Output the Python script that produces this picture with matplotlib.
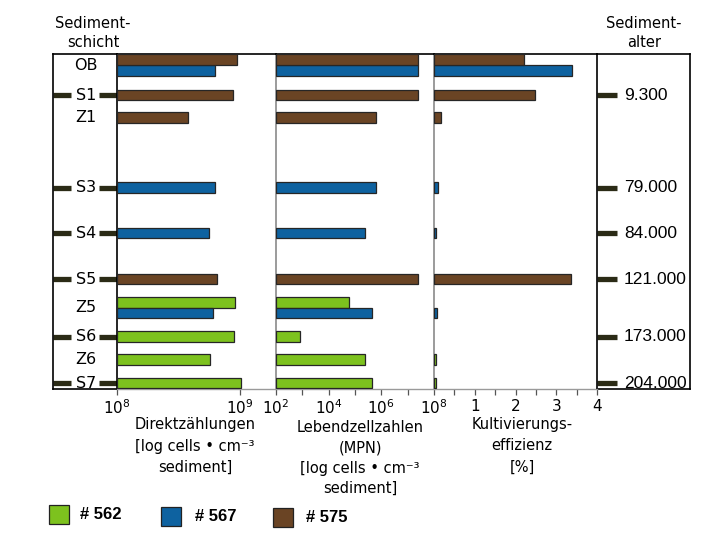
import numpy as np
import matplotlib
matplotlib.use("Agg")
import matplotlib.pyplot as plt
from matplotlib.patches import Rectangle
from matplotlib.ticker import FixedLocator, NullFormatter, NullLocator

nan = np.nan

# ---- data -------------------------------------------------------------
layers = ["OB", "S1", "Z1", "S3", "S4", "S5", "Z5", "S6", "Z6", "S7"]
is_boundary = [False, True, False, True, True, True, False, True, False, True]
ages = ["", "9.300", "", "79.000", "84.000", "121.000", "", "173.000", "", "204.000"]

series_names = ["# 562", "# 567", "# 575"]
series_colors = ["#7dc21e", "#0e62a0", "#6a4424"]

# Direktzählungen [cells / cm^3]
direct_562 = [nan, nan, nan, nan, nan, nan, 9.1e8, 8.9e8, 5.7e8, 1.01e9]
direct_567 = [6.3e8, nan, nan, 6.3e8, 5.6e8, nan, 6.0e8, nan, nan, nan]
direct_575 = [9.5e8, 8.8e8, 3.8e8, nan, nan, 6.5e8, nan, nan, nan, nan]

# Lebendzellzahlen (MPN) [cells / cm^3]
mpn_562 = [nan, nan, nan, nan, nan, nan, 5.9e4, 8.1e2, 2.4e5, 4.5e5]
mpn_567 = [2.4e7, nan, nan, 6.3e5, 2.4e5, nan, 4.5e5, nan, nan, nan]
mpn_575 = [2.4e7, 2.45e7, 6.3e5, nan, nan, 2.4e7, nan, nan, nan, nan]

# Kultivierungseffizienz [%]
eff_562 = [nan, nan, nan, nan, nan, nan, nan, nan, 0.04, 0.05]
eff_567 = [3.39, nan, nan, 0.10, 0.05, nan, 0.07, nan, nan, nan]
eff_575 = [2.22, 2.49, 0.17, nan, nan, 3.35, nan, nan, nan, nan]

direct = [direct_562, direct_567, direct_575]
mpn = [mpn_562, mpn_567, mpn_575]
eff = [eff_562, eff_567, eff_575]

# ---- layout (pixel based) ---------------------------------------------
W, H = 712, 546
TOP, BOTTOM = 54, 389
row_center = [65, 95, 117.5, 187.5, 233, 279, 307.5, 336.5, 359.5, 383]
BAR_H = 10.8
stack_order = [0, 2, 1]  # green / brown above blue in shared rows

DASH = "#2b2b16"
FONT = "DejaVu Sans"
FONT_NUM = "Liberation Sans"


def rect(x0, y0, x1, y1):
    return [x0 / W, 1 - y1 / H, (x1 - x0) / W, (y1 - y0) / H]


def fx(x):
    return x / W


def fy(y):
    return 1 - y / H


def bar_slots():
    """y position of each (series, layer) bar."""
    slots = {}
    for li in range(len(layers)):
        present = [s for s in stack_order if not np.isnan(direct[s][li])]
        n = len(present)
        for k, s in enumerate(present):
            offset = (k - (n - 1) / 2) * BAR_H
            slots[(s, li)] = row_center[li] + offset
    return slots


slots = bar_slots()

fig = plt.figure(figsize=(W / 100, H / 100), dpi=100)
fig.patch.set_facecolor("white")

# ---- left label box ------------------------------------------------------
axl = fig.add_axes(rect(53, TOP, 117, BOTTOM))
axl.set_xlim(53, 117)
axl.set_ylim(BOTTOM, TOP)
axl.set_xticks([])
axl.set_yticks([])
for sp in axl.spines.values():
    sp.set_color("black")
    sp.set_linewidth(1.2)
for li, name in enumerate(layers):
    y = row_center[li]
    axl.text(86, y, name, ha="center", va="center", fontsize=11.5,
             family=FONT, color="black")
    if is_boundary[li]:
        axl.plot([53, 71], [y, y], color=DASH, lw=3.8, solid_capstyle="butt")
        axl.plot([99, 117], [y, y], color=DASH, lw=3.8, solid_capstyle="butt")

# ---- right age box -------------------------------------------------------
axr = fig.add_axes(rect(597, TOP, 690, BOTTOM))
axr.set_xlim(597, 690)
axr.set_ylim(BOTTOM, TOP)
axr.set_xticks([])
axr.set_yticks([])
for sp in axr.spines.values():
    sp.set_color("black")
    sp.set_linewidth(1.2)
for li, age in enumerate(ages):
    if age:
        y = row_center[li]
        axr.plot([597, 617], [y, y], color=DASH, lw=3.8, solid_capstyle="butt")
        axr.text(624, y, age, ha="left", va="center", fontsize=12.5,
                 family=FONT_NUM, color="black")


# ---- the three measurement panels -----------------------------------------
def panel(box, values, scale, xlim, major, labels, minor):
    ax = fig.add_axes(rect(*box))
    ax.set_xscale(scale)
    ax.set_xlim(*xlim)
    ax.set_ylim(BOTTOM, TOP)
    base = xlim[0]
    for s in range(3):
        for li in range(len(layers)):
            v = values[s][li]
            if np.isnan(v) or (s, li) not in slots:
                continue
            ax.barh(slots[(s, li)], v - base, left=base, height=BAR_H,
                    color=series_colors[s], edgecolor="#262626",
                    linewidth=0.9, zorder=3)
    ax.set_yticks([])
    ax.xaxis.set_major_locator(FixedLocator(major))
    ax.set_xticklabels(labels, fontsize=11, family=FONT)
    ax.xaxis.set_minor_locator(FixedLocator(minor) if minor else NullLocator())
    ax.xaxis.set_minor_formatter(NullFormatter())
    ax.tick_params(axis="x", which="both", direction="out", length=4,
                   width=0.9, color="#555555", pad=3)
    ax.spines["top"].set_color("black")
    ax.spines["top"].set_linewidth(1.2)
    ax.spines["bottom"].set_color("#9a9a9a")
    ax.spines["bottom"].set_linewidth(1.0)
    ax.spines["left"].set_visible(False)
    ax.spines["right"].set_color("#8a8a8a")
    ax.spines["right"].set_linewidth(1.2)
    ax.patch.set_alpha(0)
    return ax


panel((117, TOP, 276, BOTTOM), direct, "log", (1e8, 10 ** (8 + 159 / 123)),
      [1e8, 1e9], [r"$10^8$", r"$10^9$"], None)
panel((276, TOP, 434, BOTTOM), mpn, "log", (1e2, 1e8),
      [1e2, 1e4, 1e6, 1e8], [r"$10^2$", r"$10^4$", r"$10^6$", r"$10^8$"],
      [1e3, 1e5, 1e7])
p3 = panel((434, TOP, 597, BOTTOM), eff, "linear", (0, 4),
           [1, 2, 3, 4], ["1", "2", "3", "4"], [0.5, 1.5, 2.5, 3.5])
p3.spines["right"].set_visible(False)


# ---- headers and axis titles -----------------------------------------------
def text_lines(xc, y0, lines, step, size):
    for k, line in enumerate(lines):
        fig.text(fx(xc), fy(y0 + k * step), line, ha="center", va="center",
                 fontsize=size, family=FONT, color="black")


text_lines(93, 24, ["Sediment-", "schicht"], 18.5, 10.5)
text_lines(644, 24, ["Sediment-", "alter"], 18.5, 10.5)

text_lines(195, 425, ["Direktzählungen", "[log cells • cm⁻³", "sediment]"], 21, 10.5)
text_lines(360, 428, ["Lebendzellzahlen", "(MPN)", "[log cells • cm⁻³", "sediment]"], 20, 10.5)
text_lines(522, 425, ["Kultivierungs-", "effizienz", "[%]"], 21, 10.5)

# ---- legend ----------------------------------------------------------------
legend_boxes = [(49, 505), (161, 507), (273, 508)]
legend_text_x = [80, 195, 306]
for s, ((x0, y0), tx) in enumerate(zip(legend_boxes, legend_text_x)):
    fig.patches.append(Rectangle((fx(x0), fy(y0 + 19)), 20 / W, 19 / H,
                                 transform=fig.transFigure,
                                 facecolor=series_colors[s],
                                 edgecolor="#222222", linewidth=0.9))
    fig.text(fx(tx), fy(y0 + 9.5), series_names[s], ha="left", va="center",
             fontsize=12, family=FONT_NUM, weight="bold", color="black")

fig.savefig("out.png", dpi=100, facecolor="white")
